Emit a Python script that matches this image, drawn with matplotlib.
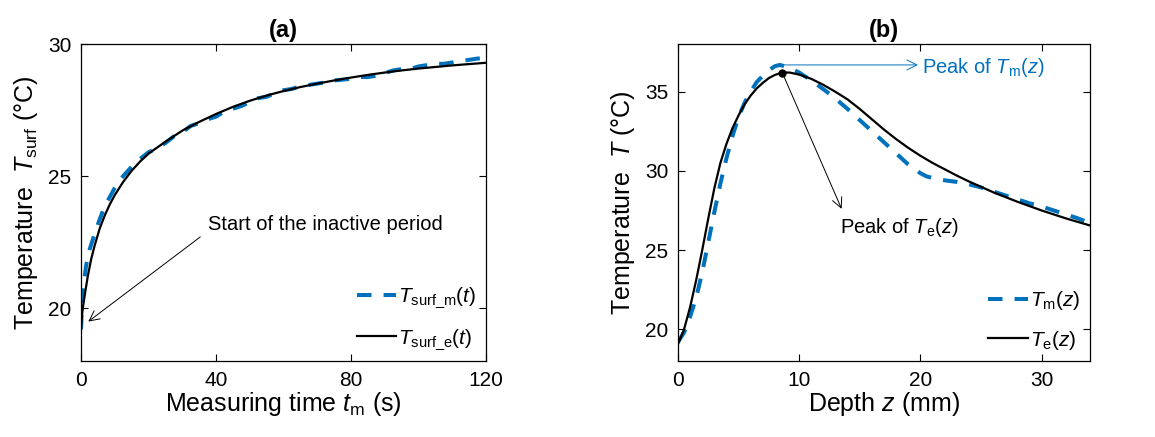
import matplotlib
matplotlib.use("Agg")
import matplotlib.pyplot as plt

plt.rcParams['font.family'] = ['Liberation Sans', 'DejaVu Sans']
plt.rcParams['mathtext.fontset'] = 'custom'
plt.rcParams['mathtext.rm'] = 'Liberation Sans'
plt.rcParams['mathtext.it'] = 'Liberation Sans:italic'
plt.rcParams['mathtext.bf'] = 'Liberation Sans:bold'

BLUE = '#0072BD'

# (a) surface temperature during the inactive period
t_e = [0, 0.3, 0.7, 1.2, 2, 3, 4, 5.5, 7, 8.5, 10, 12.5, 15, 17.5, 20, 25, 30,
       35, 40, 45, 50, 55, 60, 65, 70, 75, 80, 85, 90, 95, 100, 105, 110, 115, 120]
T_surf_e = [19.18, 19.75, 20.15, 20.57, 21.2, 21.85, 22.35, 23.0, 23.5, 23.92,
            24.28, 24.78, 25.2, 25.55, 25.85, 26.3, 26.72, 27.05, 27.35, 27.62,
            27.85, 28.05, 28.22, 28.37, 28.5, 28.62, 28.73, 28.83, 28.92, 29.0,
            29.07, 29.13, 29.19, 29.24, 29.29]

t_m = [0, 0.25, 0.5, 1, 1.5, 2.5, 4, 5.5, 7, 8.5, 10, 12.5, 15, 17.5, 20, 22.5,
       25, 27.5, 30, 32.5, 35, 37.5, 40, 42.5, 45, 47.5, 50, 52.5, 55, 57.5, 60,
       62.5, 65, 67.5, 70, 72.5, 75, 77.5, 80, 82.5, 85, 87.5, 90, 92.5, 95,
       97.5, 100, 102.5, 105, 107.5, 110, 112.5, 115, 117.5, 118.5]
T_surf_m = [19.2, 19.9, 20.6, 21.1, 21.6, 22.2, 22.8, 23.35, 23.85, 24.2, 24.55,
            25.0, 25.35, 25.65, 25.9, 26.05, 26.25, 26.5, 26.65, 26.9, 27.0,
            27.15, 27.25, 27.45, 27.55, 27.65, 27.8, 27.95, 28.0, 28.15, 28.25,
            28.3, 28.4, 28.45, 28.5, 28.55, 28.62, 28.65, 28.68, 28.75, 28.75,
            28.8, 28.9, 29.0, 29.05, 29.05, 29.15, 29.2, 29.25, 29.25, 29.3,
            29.35, 29.4, 29.45, 29.45]

# (b) temperature profile over depth
z_e = [0, 0.5, 1, 1.5, 2, 2.5, 3, 3.5, 4, 4.5, 5, 5.5, 6, 6.5, 7, 7.5, 8, 8.6,
       9.2, 10, 11, 12, 13, 14, 15, 16, 17, 18, 19, 20, 21, 22, 23, 24, 26, 28,
       30, 32, 34]
T_e = [19.06, 20.0, 21.4, 23.1, 25.0, 27.0, 28.9, 30.5, 31.7, 32.7, 33.5, 34.2,
       34.75, 35.2, 35.55, 35.85, 36.05, 36.2, 36.2, 36.07, 35.8, 35.42, 34.98,
       34.5, 33.9, 33.25, 32.6, 32.0, 31.45, 30.95, 30.5, 30.1, 29.7, 29.33,
       28.65, 28.05, 27.5, 27.0, 26.55]

z_m = [0, 0.5, 1, 1.5, 2, 2.5, 3, 3.5, 4, 4.5, 5, 5.5, 6, 6.5, 7, 7.5, 8, 8.4,
       9, 10, 11, 12, 13, 14, 15, 16, 17, 18, 19, 20, 20.5, 21, 22, 23, 24, 25,
       26, 27, 28, 29, 30, 31, 32, 33, 34]
T_m = [19.2, 19.8, 20.8, 22.0, 23.6, 25.5, 27.4, 29.2, 30.8, 32.2, 33.4, 34.3,
       35.0, 35.6, 36.0, 36.35, 36.6, 36.68, 36.55, 36.2, 35.7, 35.15, 34.55,
       33.9, 33.2, 32.5, 31.8, 31.1, 30.4, 29.85, 29.65, 29.55, 29.4, 29.3,
       29.15, 28.95, 28.7, 28.45, 28.2, 27.95, 27.75, 27.5, 27.25, 27.0, 26.7]

peak_m = (8.4, 36.68)
peak_e = (8.6, 36.2)

xticks_a = [0, 40, 80, 120]
yticks_a = [20, 25, 30]
xticks_b = [0, 10, 20, 30]
yticks_b = [20, 25, 30, 35]

W, H = 1155, 437
fig = plt.figure(figsize=(W / 100, H / 100), dpi=100)
ax_a = fig.add_axes([81 / W, 1 - 361 / H, 405 / W, 317 / H])
ax_b = fig.add_axes([678 / W, 1 - 361 / H, 412 / W, 317 / H])

dash = (0, (3.6, 3.0))
LW_M, LW_E = 2.9, 1.6
ANN = 14.5


def style(ax, xlim, ylim, xt, yt):
    ax.set_xlim(*xlim)
    ax.set_ylim(*ylim)
    ax.set_xticks(xt)
    ax.set_yticks(yt)
    ax.tick_params(direction='in', length=5, width=0.8, top=True, right=True,
                   labelsize=15, pad=7)
    for s in ax.spines.values():
        s.set_linewidth(0.9)


def add_legend(ax):
    ax.legend(loc='lower right', bbox_to_anchor=(1.0, 0.0), frameon=False,
              fontsize=15, handlelength=1.9, handletextpad=0.1,
              labelspacing=0.8, borderaxespad=0.05)


# panel (a)
ax_a.plot(t_m, T_surf_m, color=BLUE, lw=LW_M, linestyle=dash,
          label=r'$T_{\mathrm{surf\_m}}(t)$')
ax_a.plot(t_e, T_surf_e, color='black', lw=LW_E, label=r'$T_{\mathrm{surf\_e}}(t)$')
style(ax_a, (0, 120), (18, 30), xticks_a, yticks_a)
ax_a.set_xlabel(r'Measuring time $t_{\mathrm{m}}$ (s)', fontsize=18, labelpad=0)
ax_a.set_ylabel(r'Temperature  $T_{\mathrm{surf}}$ (°C)', fontsize=18, labelpad=6)
ax_a.set_title('(a)', fontsize=17, fontweight='bold', pad=5)
ax_a.annotate('', xy=(1.5, 19.43), xytext=(36, 22.76),
              arrowprops=dict(arrowstyle='->', color='black', lw=0.7,
                              mutation_scale=18))
ax_a.text(37.5, 22.97, 'Start of the inactive period', fontsize=ANN,
          va='baseline', ha='left')
add_legend(ax_a)

# panel (b)
ax_b.plot(z_m, T_m, color=BLUE, lw=LW_M, linestyle=dash, label=r'$T_{\mathrm{m}}(z)$')
ax_b.plot(z_e, T_e, color='black', lw=LW_E, label=r'$T_{\mathrm{e}}(z)$')
ax_b.plot([peak_e[0]], [peak_e[1]], 'o', color='black', ms=5)
style(ax_b, (0, 34), (18, 38), xticks_b, yticks_b)
ax_b.set_xlabel(r'Depth $z$ (mm)', fontsize=18, labelpad=0)
ax_b.set_ylabel(r'Temperature  $T$ (°C)', fontsize=18, labelpad=6)
ax_b.set_title('(b)', fontsize=17, fontweight='bold', pad=5)
ax_b.annotate('', xy=(19.8, peak_m[1]), xytext=peak_m,
              arrowprops=dict(arrowstyle='->', color=BLUE, lw=0.7,
                              mutation_scale=18, shrinkA=0, shrinkB=0))
ax_b.text(20.1, 36.15, r'Peak of $T_{\mathrm{m}}(z)$', fontsize=ANN, color=BLUE,
          va='baseline', ha='left')
ax_b.annotate('', xy=(13.5, 27.6), xytext=peak_e,
              arrowprops=dict(arrowstyle='->', color='black', lw=0.7,
                              mutation_scale=18, shrinkA=0, shrinkB=0))
ax_b.text(13.4, 26.1, r'Peak of $T_{\mathrm{e}}(z)$', fontsize=ANN,
          va='baseline', ha='left')
add_legend(ax_b)

fig.savefig('out.png', dpi=100)
